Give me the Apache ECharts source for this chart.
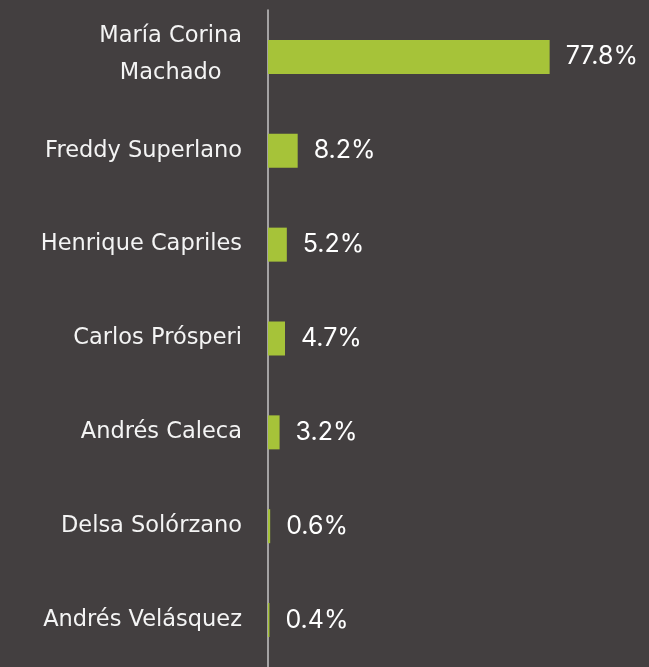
<!DOCTYPE html>
<html>
<head>
<meta charset="utf-8">
<script src="https://cdn.jsdelivr.net/npm/echarts@6/dist/echarts.min.js"></script>
<style>
  html, body { margin: 0; padding: 0; background: #433f40; }
  #chart { width: 649px; height: 667px; }
</style>
</head>
<body>
<div id="chart"></div>
<script>
// candidatos y porcentaje
const candidates = [
  'María Corina\nMachado',
  'Freddy Superlano',
  'Henrique Capriles',
  'Carlos Prósperi',
  'Andrés Caleca',
  'Delsa Solórzano',
  'Andrés Velásquez'
];
const shares = [77.8, 8.2, 5.2, 4.7, 3.2, 0.6, 0.4];

const chart = echarts.init(document.getElementById('chart'));

const option = {
  backgroundColor: '#433f40',
  grid: { left: 268, top: 10, bottom: 0, width: 362, containLabel: false },
  xAxis: {
    type: 'value',
    min: 0,
    max: 100,
    show: false
  },
  yAxis: {
    type: 'category',
    data: candidates,
    inverse: true,
    axisLine: { show: true, lineStyle: { color: '#c4c4c4', width: 1.5 } },
    axisTick: { show: false },
    splitLine: { show: false },
    axisLabel: {
      margin: 26,
      color: '#f4f4f4',
      fontFamily: 'DejaVu Sans',
      fontSize: 22.5,
      formatter: function (v) {
        if (v.indexOf('\n') >= 0) {
          return v.split('\n').map(function (s) { return '{c|' + s + '}'; }).join('\n');
        }
        return v;
      },
      rich: {
        c: { align: 'center', color: '#f4f4f4', fontFamily: 'DejaVu Sans', fontSize: 22.5, lineHeight: 37, padding: [0, 0, 4, 0] }
      }
    }
  },
  series: [{
    type: 'bar',
    data: shares,
    barWidth: 34,
    itemStyle: { color: '#a6c339' },
    label: {
      show: true,
      position: 'right',
      distance: 16,
      color: '#ffffff',
      fontFamily: 'Inter',
      fontSize: 25,
      formatter: function (p) { return p.value.toFixed(1) + '%'; }
    },
    silent: true,
    animation: false
  }]
};

chart.setOption(option);
</script>
</body>
</html>
